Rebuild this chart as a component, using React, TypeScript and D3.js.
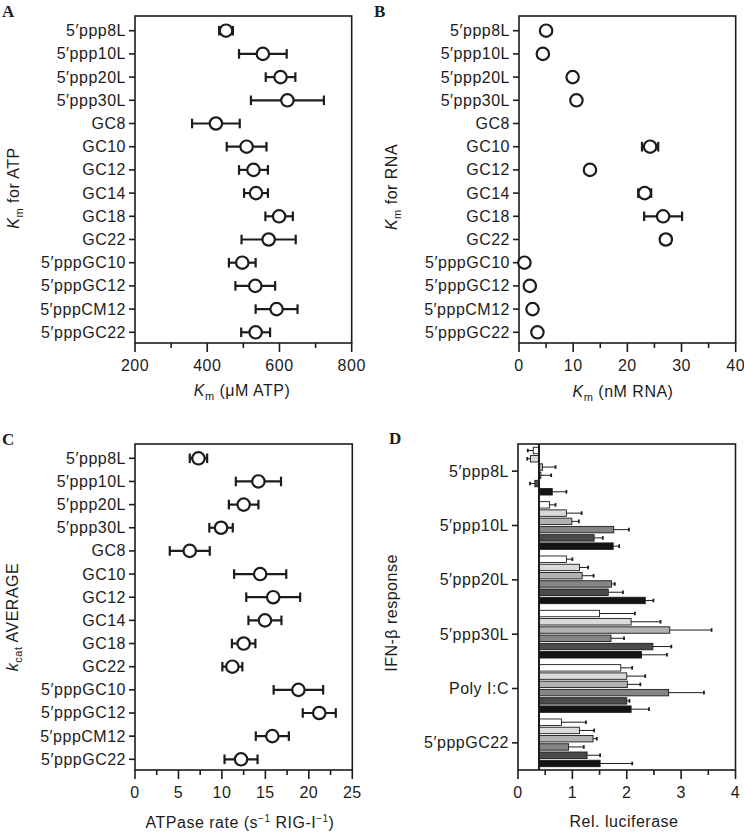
import React from "react";
import * as d3 from "d3";

// ---------- DATA ----------
const rnaLabels = [
  "5′ppp8L", "5′ppp10L", "5′ppp20L", "5′ppp30L", "GC8", "GC10", "GC12",
  "GC14", "GC18", "GC22", "5′pppGC10", "5′pppGC12", "5′pppCM12", "5′pppGC22",
];
// Panel A: Km for ATP (µM)
const kmAtp = [452, 554, 603, 622, 424, 509, 528, 535, 599, 570, 497, 533, 592, 534];
const kmAtpErr = [19, 66, 41, 101, 66, 55, 40, 33, 38, 75, 37, 55, 58, 40];
// Panel B: Km for RNA (nM)
const kmRna: (number | null)[] = [5.0, 4.4, 9.9, 10.6, null, 24.2, 13.1, 23.2, 26.6, 27.1, 1.0, 2.0, 2.5, 3.4];
const kmRnaErr: (number | null)[] = [0.2, 0.2, 0.2, 0.5, null, 1.5, 0.3, 1.2, 3.5, 0.9, 0.2, 0.2, 0.2, 0.6];
// Panel C: kcat (s-1 RIG-I-1)
const kcat = [7.3, 14.2, 12.5, 9.9, 6.3, 14.4, 15.9, 14.95, 12.5, 11.2, 18.8, 21.2, 15.8, 12.2];
const kcatErr = [1.0, 2.6, 1.7, 1.35, 2.3, 3.0, 3.1, 1.9, 1.35, 1.15, 2.85, 1.9, 1.9, 1.9];

// Panel D: IFN-beta response, relative luciferase
const ifnGroups = ["5′ppp8L", "5′ppp10L", "5′ppp20L", "5′ppp30L", "Poly I:C", "5′pppGC22"];
const ifnSeries = ["s1", "s2", "s3", "s4", "s5", "s6"];
const ifnValues = [
  [0.28, 0.23, 0.45, 0.42, 0.31, 0.63],
  [0.58, 0.89, 0.99, 1.76, 1.40, 1.75],
  [0.89, 1.13, 1.18, 1.72, 1.66, 2.34],
  [1.50, 2.08, 2.79, 1.71, 2.48, 2.27],
  [1.89, 2.00, 2.01, 2.77, 2.00, 2.08],
  [0.80, 1.13, 1.38, 0.93, 1.27, 1.51],
];
const ifnErrors = [
  [0.10, 0.06, 0.24, 0.19, 0.09, 0.26],
  [0.11, 0.28, 0.13, 0.28, 0.16, 0.11],
  [0.11, 0.16, 0.21, 0.06, 0.27, 0.15],
  [0.65, 0.54, 0.77, 0.24, 0.34, 0.47],
  [0.21, 0.34, 0.24, 0.65, 0.05, 0.33],
  [0.45, 0.27, 0.07, 0.28, 0.24, 0.59],
];
const ifnBaseline = 0.386;
const ifnColors = ["#ffffff", "#dadada", "#b2b2b2", "#858585", "#4b4b4b", "#141414"];

// ---------- STYLE ----------
const FONT = "'Liberation Sans', Arial, Helvetica, sans-serif";
const SERIF = "'Liberation Serif', 'Times New Roman', serif";
const INK = "#1c1c1c";
const FS = 16;
const LS = 0.5;

type DotProps = {
  left: number; right: number; top: number; bottom: number;
  rowTop: number; rowBottom: number;
  domain: [number, number];
  major: number[]; minor: number[];
  values: (number | null)[]; errors: (number | null)[];
  xLabel: React.ReactNode; yLabel: React.ReactNode;
  xLabelX: number; xLabelY: number; yLabelX: number; yLabelY: number;
  letter: string; letterX: number; letterY: number;
};

function DotPanel(p: DotProps) {
  const x = d3.scaleLinear().domain(p.domain).range([p.left, p.right]);
  const y = d3.scalePoint<string>().domain(rnaLabels).range([p.rowTop, p.rowBottom]);
  return (
    <g>
      <text x={p.letterX} y={p.letterY} fontFamily={SERIF} fontWeight="bold" fontSize={17} fill={INK}>{p.letter}</text>
      {rnaLabels.map((c) => (
        <g key={c}>
          <line x1={p.left - 6} x2={p.left} y1={y(c)} y2={y(c)} stroke={INK} strokeWidth={1.6} />
          <text x={p.left - 9} y={(y(c) as number) + 5.5} textAnchor="end" fontFamily={FONT} fontSize={FS} letterSpacing={LS} fill={INK}>{c}</text>
        </g>
      ))}
      {p.major.map((t) => (
        <g key={"M" + t}>
          <line x1={x(t)} x2={x(t)} y1={p.bottom} y2={p.bottom + 9} stroke={INK} strokeWidth={1.6} />
          <text x={x(t)} y={p.bottom + 28} textAnchor="middle" fontFamily={FONT} fontSize={FS} letterSpacing={LS} fill={INK}>{t}</text>
        </g>
      ))}
      {p.minor.map((t) => (
        <line key={"m" + t} x1={x(t)} x2={x(t)} y1={p.bottom} y2={p.bottom + 5} stroke={INK} strokeWidth={1.6} />
      ))}
      <rect x={p.left} y={p.top} width={p.right - p.left} height={p.bottom - p.top} fill="none" stroke={INK} strokeWidth={1.6} />
      {rnaLabels.map((c, i) => {
        const v = p.values[i];
        const e = p.errors[i];
        if (v == null) return null;
        const cy = y(c) as number;
        const err = e ?? 0;
        return (
          <g key={"d" + c}>
            <line x1={x(v - err)} x2={x(v + err)} y1={cy} y2={cy} stroke={INK} strokeWidth={2.2} />
            <line x1={x(v - err)} x2={x(v - err)} y1={cy - 4.8} y2={cy + 4.8} stroke={INK} strokeWidth={2.2} />
            <line x1={x(v + err)} x2={x(v + err)} y1={cy - 4.8} y2={cy + 4.8} stroke={INK} strokeWidth={2.2} />
            <circle cx={x(v)} cy={cy} r={6.2} fill="#fff" stroke={INK} strokeWidth={2.2} />
          </g>
        );
      })}
      <text x={p.xLabelX} y={p.xLabelY} textAnchor="middle" fontFamily={FONT} fontSize={FS} letterSpacing={LS} fill={INK}>{p.xLabel}</text>
      <text transform={`translate(${p.yLabelX},${p.yLabelY}) rotate(-90)`} textAnchor="middle" fontFamily={FONT} fontSize={FS} letterSpacing={LS} fill={INK}>{p.yLabel}</text>
    </g>
  );
}

function BarPanel() {
  const left = 518, right = 735.5, top = 444, bottom = 770;
  const x = d3.scaleLinear().domain([0, 4]).range([left, right]);
  const g = d3.scaleBand<string>().domain(ifnGroups).range([top, bottom]).padding(0);
  const s = d3.scaleBand<string>().domain(ifnSeries).range([0, g.bandwidth()]).paddingInner(0.22).paddingOuter(0.4);
  const major = [0, 1, 2, 3, 4];
  const minor = [0.5, 1.5, 2.5, 3.5];
  return (
    <g>
      <text x={389} y={444} fontFamily={SERIF} fontWeight="bold" fontSize={17} fill={INK}>D</text>
      {ifnGroups.map((gr) => {
        const cy = (g(gr) as number) + g.bandwidth() / 2;
        return (
          <g key={gr}>
            <line x1={left - 6} x2={left} y1={cy} y2={cy} stroke={INK} strokeWidth={1.6} />
            <text x={left - 9} y={cy + 5.5} textAnchor="end" fontFamily={FONT} fontSize={FS} letterSpacing={LS} fill={INK}>{gr}</text>
          </g>
        );
      })}
      {major.map((t) => (
        <g key={"M" + t}>
          <line x1={x(t)} x2={x(t)} y1={bottom} y2={bottom + 9} stroke={INK} strokeWidth={1.6} />
          <text x={x(t)} y={bottom + 28} textAnchor="middle" fontFamily={FONT} fontSize={FS} letterSpacing={LS} fill={INK}>{t}</text>
        </g>
      ))}
      {minor.map((t) => (
        <line key={"m" + t} x1={x(t)} x2={x(t)} y1={bottom} y2={bottom + 5} stroke={INK} strokeWidth={1.6} />
      ))}
      {ifnGroups.map((gr, gi) =>
        ifnSeries.map((se, si) => {
          const v = ifnValues[gi][si];
          const e = ifnErrors[gi][si];
          const y0 = (g(gr) as number) + (s(se) as number);
          const h = s.bandwidth();
          const x0 = x(Math.min(v, ifnBaseline));
          const x1 = x(Math.max(v, ifnBaseline));
          const end = v >= ifnBaseline ? v + e : v - e;
          const cy = y0 + h / 2;
          return (
            <g key={gr + se}>
              <line x1={x(v)} x2={x(end)} y1={cy} y2={cy} stroke={INK} strokeWidth={1} />
              <line x1={x(end)} x2={x(end)} y1={cy - 1.8} y2={cy + 1.8} stroke={INK} strokeWidth={1.8} />
              <rect x={x0} y={y0} width={x1 - x0} height={h} fill={ifnColors[si]} stroke={INK} strokeWidth={0.9} />
            </g>
          );
        })
      )}
      <line x1={x(ifnBaseline)} x2={x(ifnBaseline)} y1={top} y2={bottom} stroke={INK} strokeWidth={2} />
      <rect x={left} y={top} width={right - left} height={bottom - top} fill="none" stroke={INK} strokeWidth={1.6} />
      <text x={624} y={827} textAnchor="middle" fontFamily={FONT} fontSize={FS} letterSpacing={LS} fill={INK}>Rel. luciferase</text>
      <text transform="translate(397,613) rotate(-90)" textAnchor="middle" fontFamily={FONT} fontSize={FS} letterSpacing={LS} fill={INK}>IFN-β response</text>
    </g>
  );
}

const Km = (rest: string) => (
  <>
    <tspan fontStyle="italic">K</tspan>
    <tspan fontSize={11} dy={4}>m</tspan>
    <tspan dy={-4}>{rest}</tspan>
  </>
);

export default function App() {
  return (
    <svg width={744} height={832} viewBox="0 0 744 832" style={{ position: "absolute", left: 0, top: 0, background: "#fff" }}>
      <rect x={0} y={0} width={744} height={832} fill="#fff" />
      <DotPanel
        left={135} right={351.7} top={16} bottom={343} rowTop={30.7} rowBottom={332.3}
        domain={[200, 800]} major={[200, 400, 600, 800]} minor={[300, 500, 700]}
        values={kmAtp} errors={kmAtpErr}
        xLabel={Km(" (μM ATP)")} yLabel={Km(" for ATP")}
        xLabelX={242} xLabelY={396} yLabelX={19} yLabelY={188}
        letter="A" letterX={2} letterY={17}
      />
      <DotPanel
        left={519} right={735.7} top={16} bottom={343} rowTop={30.7} rowBottom={332.3}
        domain={[0, 40]} major={[0, 10, 20, 30, 40]} minor={[5, 15, 25, 35]}
        values={kmRna} errors={kmRnaErr}
        xLabel={Km(" (nM RNA)")} yLabel={Km(" for RNA")}
        xLabelX={623} xLabelY={397} yLabelX={397} yLabelY={187}
        letter="B" letterX={374} letterY={17}
      />
      <DotPanel
        left={135} right={352.3} top={444} bottom={770} rowTop={458.3} rowBottom={759.3}
        domain={[0, 25]} major={[0, 5, 10, 15, 20, 25]} minor={[2.5, 7.5, 12.5, 17.5, 22.5]}
        values={kcat} errors={kcatErr}
        xLabel={<>ATPase rate (s<tspan fontSize={10} dy={-6}>−1</tspan><tspan dy={6}> RIG-I</tspan><tspan fontSize={10} dy={-6}>−1</tspan><tspan dy={6}>)</tspan></>}
        yLabel={<><tspan fontStyle="italic">k</tspan><tspan fontSize={11} dy={4}>cat</tspan><tspan dy={-4}>{"  AVERAGE"}</tspan></>}
        xLabelX={240} xLabelY={828} yLabelX={18} yLabelY={617}
        letter="C" letterX={2} letterY={445}
      />
      <BarPanel />
    </svg>
  );
}
